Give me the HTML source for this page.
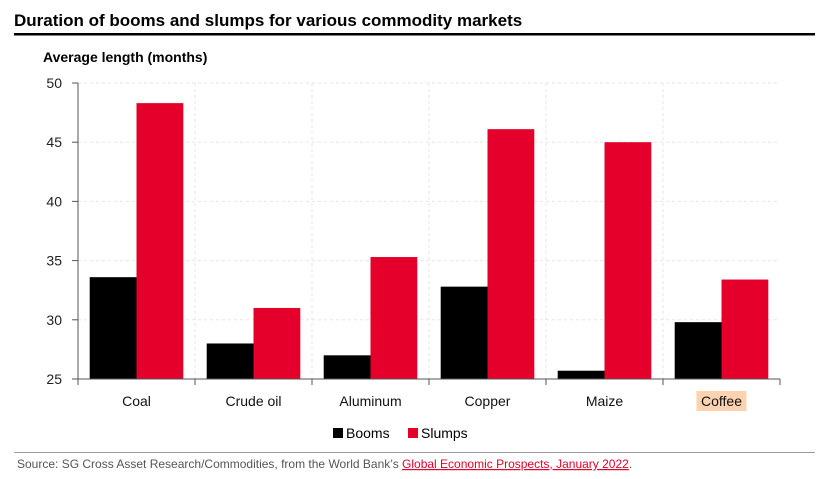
<!DOCTYPE html>
<html><head><meta charset="utf-8"><style>
body{margin:0;background:#fff;font-family:"Liberation Sans",sans-serif;}
svg{display:block}
</style></head><body>
<svg width="817" height="479" xmlns="http://www.w3.org/2000/svg">
<text x="14" y="26" font-size="17" font-weight="bold" fill="#000">Duration of booms and slumps for various commodity markets</text>
<rect x="14" y="33" width="801" height="2.5" fill="#000"/>
<text x="43" y="62" font-size="14" font-weight="bold" fill="#000">Average length (months)</text>
<g id="plot"></g>
<g>
<rect x="333" y="428" width="10" height="10" fill="#000"/>
<text x="346" y="438" font-size="14" fill="#000">Booms</text>
<rect x="408" y="428" width="10" height="10" fill="#e4002b"/>
<text x="421" y="438" font-size="14" fill="#000">Slumps</text>
</g>
<rect x="14" y="452" width="801" height="1" fill="#999"/>
<text x="17" y="468" font-size="12" fill="#555">Source: SG Cross Asset Research/Commodities, from the World Bank’s <tspan fill="#e4002b" text-decoration="underline">Global Economic Prospects, January 2022</tspan>.</text>
</svg>
<script>
const categories=["Coal","Crude oil","Aluminum","Copper","Maize","Coffee"];
const booms=[33.6,28,27,32.8,25.7,29.8];
const slumps=[48.3,31,35.3,46.1,45,33.4];
const yTicks=[25,30,35,40,45,50];
const NS="http://www.w3.org/2000/svg";
const g=document.getElementById('plot');
const x0=78,x1=780,yTop=83,yBot=379,yMin=25,yMax=50;
const bw=(x1-x0)/categories.length;
const y=v=>yBot-(v-yMin)/(yMax-yMin)*(yBot-yTop);
function mk(t,a){const e=document.createElementNS(NS,t);for(const k in a)e.setAttribute(k,a[k]);g.appendChild(e);return e;}
yTicks.forEach(t=>{
 if(t>yMin){const l=mk('line',{x1:x0,x2:x1,y1:y(t),y2:y(t),stroke:'#e6e6e6','stroke-dasharray':'3,3'});
 
 }
 const tk=mk('line',{x1:x0-6,x2:x0,y1:y(t),y2:y(t),stroke:'#555'});
 
 
 const tx=mk('text',{x:x0-16,y:y(t)+5,'font-size':14,'text-anchor':'end',fill:'#222'});
 tx.textContent=t;
 
 
});
categories.forEach((c,i)=>{
 const gx=x0+i*bw;
 if(i>0){const vl=mk('line',{x1:gx,x2:gx,y1:yTop,y2:yBot,stroke:'#e6e6e6','stroke-dasharray':'3,3'});
 
 }
 const tk=mk('line',{x1:gx,x2:gx,y1:yBot,y2:yBot+6,stroke:'#555'});
 
 
 const w=bw*0.4,s=gx+bw*0.1;
 const b=mk('rect',{x:s,y:y(booms[i]),width:w,height:yBot-y(booms[i]),fill:'#000'});
 
 
 const r=mk('rect',{x:s+w,y:y(slumps[i]),width:w,height:yBot-y(slumps[i]),fill:'#e4002b'});
 
 
 const cx=gx+bw/2;
 if(c==="Coffee"){const h=mk('rect',{x:cx-25,y:yBot+12,width:50,height:20,fill:'#fbd3b0'});
 
 }
 const t=mk('text',{x:cx,y:yBot+27,'font-size':14,'text-anchor':'middle',fill:'#111'});
 t.textContent=c;
 
 
});
const tk=mk('line',{x1:x1,x2:x1,y1:yBot,y2:yBot+6,stroke:'#555'});


const ya=mk('line',{x1:x0,x2:x0,y1:yTop,y2:yBot,stroke:'#555'});


const xa=mk('line',{x1:x0,x2:x1,y1:yBot,y2:yBot,stroke:'#555'});


</script>
</body></html>
